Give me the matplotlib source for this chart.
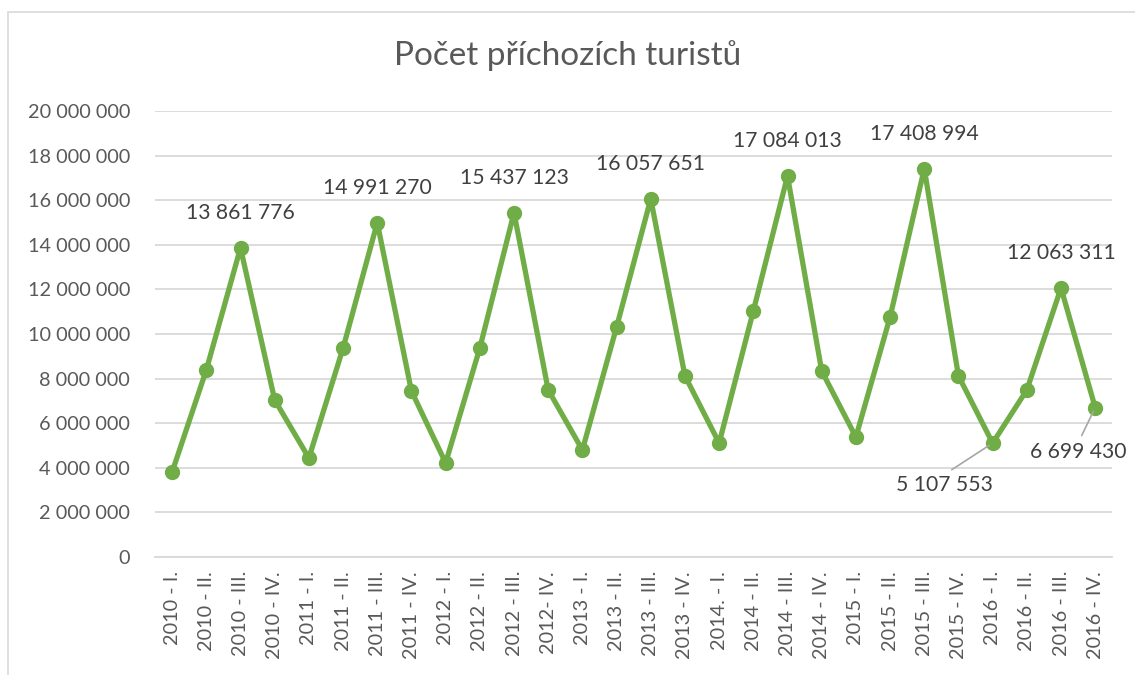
#!/usr/bin/env python3
"""Počet příchozích turistů - čtvrtletní řada 2010-2016"""

import matplotlib
matplotlib.use('Agg')
import matplotlib.pyplot as plt
from matplotlib.patches import Rectangle
from matplotlib.ticker import FuncFormatter

plt.rcParams['font.family'] = ['Lato', 'DejaVu Sans']

# data
quarters = [
    '2010 - I.', '2010 - II.', '2010 - III.', '2010 - IV.',
    '2011 - I.', '2011 - II.', '2011 - III.', '2011 - IV.',
    '2012 - I.', '2012 - II.', '2012 - III.', '2012- IV.',
    '2013 - I.', '2013 - II.', '2013 - III.', '2013 - IV.',
    '2014. - I.', '2014 - II.', '2014 - III.', '2014 - IV.',
    '2015 - I.', '2015 - II.', '2015 - III.', '2015 - IV.',
    '2016 - I.', '2016 - II.', '2016 - III.', '2016 - IV.',
]
arrivals = [
    3810000, 8390000, 13861776, 7040000,
    4440000, 9370000, 14991270, 7440000,
    4220000, 9370000, 15437123, 7490000,
    4800000, 10310000, 16057651, 8120000,
    5110000, 11030000, 17084013, 8340000,
    5380000, 10760000, 17408994, 8120000,
    5107553, 7490000, 12063311, 6699430,
]
# indexy bodů s popisky
labelled = [2, 6, 10, 14, 18, 22, 26]
# body s odsazeným popiskem a vodicí čarou (posun v bodech)
leader = {24: (-35, -30), 27: (-12, -32)}

LINE = '#70AD47'
TXT = '#595959'
LBL = '#404040'
GRID = '#D9D9D9'


def fmt(v, pos=None):
    return f'{int(round(v)):,}'.replace(',', ' ')


fig = plt.figure(figsize=(11.35, 6.75), dpi=100)
fig.patches.append(Rectangle((0.007, -0.01), 1.0, 0.992, transform=fig.transFigure,
                             fill=False, edgecolor=GRID, linewidth=1.2))

ax = fig.add_axes([0.1366, 0.1748, 0.8434, 0.6608])
x = list(range(len(quarters)))
ax.plot(x, arrivals, color=LINE, linewidth=3.8, marker='o', markersize=10,
        solid_joinstyle='round', zorder=3)

ax.set_xlim(-0.5, len(quarters) - 0.5)
ax.set_ylim(0, 20000000)
ax.set_yticks(range(0, 20000001, 2000000))
ax.yaxis.set_major_formatter(FuncFormatter(fmt))
ax.set_xticks(x)
ax.set_xticklabels(quarters, rotation=90, va='top', ha='center')
ax.tick_params(axis='both', length=0, labelsize=14.3, labelcolor=TXT)
ax.tick_params(axis='x', pad=10)
ax.tick_params(axis='y', pad=18)
ax.grid(axis='y', color=GRID, linewidth=1.3)
ax.set_axisbelow(True)
for s in ['top', 'right', 'left']:
    ax.spines[s].set_visible(False)
ax.spines['bottom'].set_color(GRID)
ax.spines['bottom'].set_linewidth(1.3)

for i in labelled:
    ax.annotate(fmt(arrivals[i]), (i, arrivals[i]), xytext=(0, 18),
                textcoords='offset points', ha='center', va='bottom',
                fontsize=15.2, color=LBL)
for i, off in leader.items():
    ax.annotate(fmt(arrivals[i]), (i, arrivals[i]), xytext=off,
                textcoords='offset points', ha='center', va='center',
                fontsize=15.2, color=LBL,
                arrowprops=dict(arrowstyle='-', color='#A6A6A6', lw=1.2,
                                relpos=(0.5, 1.0), shrinkA=3, shrinkB=3))

fig.text(0.5, 0.918, 'Počet příchozích turistů', ha='center', va='center',
         fontsize=24, color=TXT)

fig.savefig('out.png', dpi=100, facecolor='white')
